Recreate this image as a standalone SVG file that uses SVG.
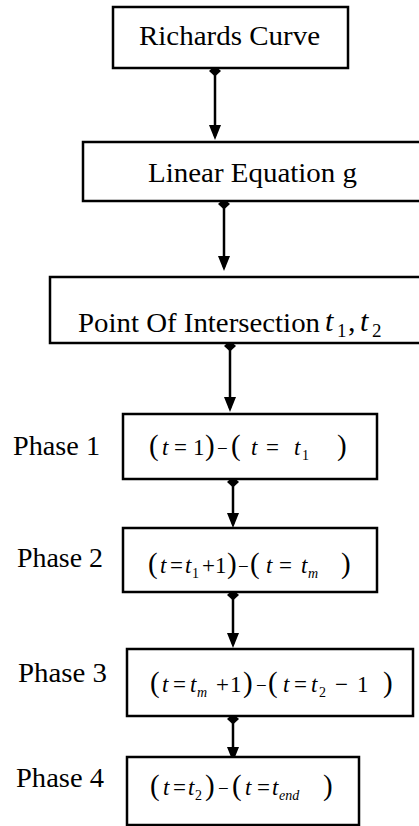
<svg xmlns="http://www.w3.org/2000/svg" width="419" height="826" viewBox="0 0 419 826">
<style>
.box{fill:#fff;stroke:#000;stroke-width:2.5}
.lbl,.m{font-family:'Liberation Serif','Times New Roman',Times,'DejaVu Serif',serif;fill:#000}
.lbl{font-size:27px}
.m{font-size:23px}
.it{font-style:italic}
.p{font-size:29px}
.sub{font-size:14px}
.mi{font-size:19px}
.conn line{stroke:#000;stroke-width:2.5;fill:none}
</style>
<defs>
<marker id="arrow" viewBox="0 0 15 12" refX="11" refY="6" markerWidth="15" markerHeight="12" markerUnits="userSpaceOnUse" orient="auto">
<path d="M0,0 L15,6 L0,12 z" fill="#000"/>
</marker>
<marker id="dia" viewBox="0 0 11 12" refX="2.5" refY="6" markerWidth="11" markerHeight="12" markerUnits="userSpaceOnUse" orient="auto">
<path d="M0,6 L5.5,0 L11,6 L5.5,12 z" fill="#000"/>
</marker>
</defs>
<g id="conn" class="conn">
<line x1="215" y1="68" x2="215" y2="136" marker-start="url(#dia)" marker-end="url(#arrow)"/>
<line x1="224" y1="201" x2="224" y2="267" marker-start="url(#dia)" marker-end="url(#arrow)"/>
<line x1="230" y1="343" x2="230" y2="408" marker-start="url(#dia)" marker-end="url(#arrow)"/>
<line x1="233" y1="479" x2="233" y2="524" marker-start="url(#dia)" marker-end="url(#arrow)"/>
<line x1="233" y1="592" x2="233" y2="644" marker-start="url(#dia)" marker-end="url(#arrow)"/>
<line x1="233" y1="716" x2="233" y2="758" marker-start="url(#dia)" marker-end="url(#arrow)"/>
</g>
<g id="richards">
<rect class="box" x="113" y="7" width="235" height="61"/>
<text class="lbl" x="139" y="45" textLength="181" lengthAdjust="spacingAndGlyphs">Richards Curve</text>
</g>
<g id="linear">
<rect class="box" x="83" y="142" width="340" height="59"/>
<text class="lbl" x="148" y="182" textLength="209" lengthAdjust="spacingAndGlyphs">Linear Equation g</text>
</g>
<g id="intersection">
<rect class="box" x="50" y="277" width="375" height="66"/>
<text class="lbl" x="78" y="332" textLength="242" lengthAdjust="spacingAndGlyphs">Point Of Intersection</text>
<text class="lbl"><tspan class="it" font-size="30" x="325" y="331">t</tspan><tspan font-size="19" x="337" y="337">1</tspan><tspan font-size="30" x="348" y="331">,</tspan><tspan class="it" font-size="30" x="360" y="331">t</tspan><tspan font-size="19" x="372" y="337">2</tspan></text>
</g>
<g id="phase1">
<text class="lbl" x="13" y="455" textLength="87" lengthAdjust="spacingAndGlyphs">Phase 1</text>
<rect class="box" x="123" y="414" width="254" height="65"/>
<text class="m" y="455"><tspan class="p" x="149">(</tspan><tspan class="it" x="162">t</tspan><tspan x="174">=</tspan><tspan x="193">1</tspan><tspan class="p" x="205">)</tspan><tspan class="mi" x="217">−</tspan><tspan class="p" x="231">(</tspan><tspan class="it" x="251">t</tspan><tspan x="266">=</tspan><tspan class="it" x="294">t</tspan><tspan class="sub" x="302" y="460">1</tspan><tspan class="p" x="337" y="455">)</tspan></text>
</g>
<g id="phase2">
<text class="lbl" x="17" y="567" textLength="86" lengthAdjust="spacingAndGlyphs">Phase 2</text>
<rect class="box" x="123" y="528" width="254" height="64"/>
<text class="m" y="573"><tspan class="p" x="148">(</tspan><tspan class="it" x="160">t</tspan><tspan x="170">=</tspan><tspan class="it" x="185">t</tspan><tspan class="sub" x="192" y="578">1</tspan><tspan x="202" y="573">+</tspan><tspan x="215">1</tspan><tspan class="p" x="227">)</tspan><tspan class="mi" x="238">−</tspan><tspan class="p" x="250">(</tspan><tspan class="it" x="266">t</tspan><tspan x="279">=</tspan><tspan class="it" x="301">t</tspan><tspan class="sub it" x="308" y="578">m</tspan><tspan class="p" x="341" y="573">)</tspan></text>
</g>
<g id="phase3">
<text class="lbl" x="18" y="682" textLength="89" lengthAdjust="spacingAndGlyphs">Phase 3</text>
<rect class="box" x="127" y="649" width="286" height="67"/>
<text class="m" y="692"><tspan class="p" x="150">(</tspan><tspan class="it" x="162">t</tspan><tspan x="173">=</tspan><tspan class="it" x="190">t</tspan><tspan class="sub it" x="197" y="697">m</tspan><tspan x="216" y="692">+</tspan><tspan x="230">1</tspan><tspan class="p" x="243">)</tspan><tspan class="mi" x="256">−</tspan><tspan class="p" x="268">(</tspan><tspan class="it" x="283">t</tspan><tspan x="294">=</tspan><tspan class="it" x="311">t</tspan><tspan class="sub" x="319" y="697">2</tspan><tspan x="335" y="692">−</tspan><tspan x="357">1</tspan><tspan class="p" x="383">)</tspan></text>
</g>
<g id="phase4">
<text class="lbl" x="16" y="787" textLength="88" lengthAdjust="spacingAndGlyphs">Phase 4</text>
<rect class="box" x="127" y="757" width="232" height="68"/>
<text class="m" y="795"><tspan class="p" x="150">(</tspan><tspan class="it" x="163">t</tspan><tspan x="173">=</tspan><tspan class="it" x="188">t</tspan><tspan class="sub" x="195" y="800">2</tspan><tspan class="p" x="205" y="795">)</tspan><tspan class="mi" x="218">−</tspan><tspan class="p" x="232">(</tspan><tspan class="it" x="245">t</tspan><tspan x="257">=</tspan><tspan class="it" x="272">t</tspan><tspan class="sub it" x="279" y="800">end</tspan><tspan class="p" x="323" y="795">)</tspan></text>
</g>
</svg>
